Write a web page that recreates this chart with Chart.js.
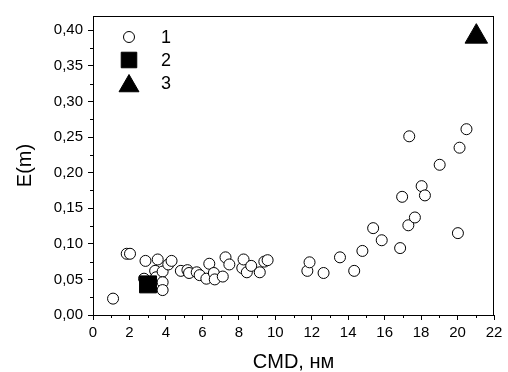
<!DOCTYPE html>
<html lang="ru">
<head>
  <meta charset="UTF-8">
  <title>E(m) vs CMD</title>
  <style>
    body {
      margin: 0;
      background: #ffffff;
    }
    .chart-box {
      width: 508px;
      height: 372px;
    }
  </style>
</head>
<body>
  <div class="chart-box">
    <canvas id="scatter-chart"></canvas>
  </div>

  <script src="https://cdn.jsdelivr.net/npm/chart.js"></script>
  <script>
    // Series 1: open circles (CMD, E(m))
    const cmd1 = [1.10, 1.85, 2.03, 2.80, 2.88, 3.41, 3.46, 3.55, 3.82, 3.82, 3.82, 4.13, 4.31,
                  4.82, 5.18, 5.27, 5.69, 5.85, 6.22, 6.38, 6.63, 6.68, 7.12, 7.27, 7.48,
                  8.19, 8.26, 8.44, 8.68, 9.15, 9.40, 9.58, 11.76, 11.88, 12.65, 13.55,
                  14.33, 14.78, 15.37, 15.84, 16.85, 16.96, 17.30, 17.35, 17.66, 18.03,
                  18.21, 19.02, 20.02, 20.11, 20.49];
    const em1 = [0.023, 0.086, 0.086, 0.051, 0.076, 0.062, 0.053, 0.078, 0.061, 0.046, 0.035, 0.071, 0.076,
                 0.062, 0.063, 0.059, 0.060, 0.056, 0.051, 0.072, 0.059, 0.050, 0.054, 0.081, 0.071,
                 0.066, 0.078, 0.060, 0.069, 0.060, 0.075, 0.077, 0.062, 0.074, 0.059, 0.081,
                 0.062, 0.090, 0.122, 0.105, 0.094, 0.166, 0.126, 0.251, 0.137, 0.181,
                 0.168, 0.211, 0.115, 0.235, 0.261];

    // Series 2: filled square
    const cmd2 = [3.02];
    const em2 = [0.043];

    // Series 3: filled triangle
    const cmd3 = [21.03];
    const em3 = [0.391];

    const seriesLabels = ["1", "2", "3"];
    const xTicks = [0, 2, 4, 6, 8, 10, 12, 14, 16, 18, 20, 22];
    const yTicks = [0, 0.05, 0.10, 0.15, 0.20, 0.25, 0.30, 0.35, 0.40];

    const FONT = "'Liberation Sans', Arial, sans-serif";

    function toPoints(xs, ys) {
      return xs.map((x, i) => ({ x: x, y: ys[i] }));
    }

    // Frame, minor ticks and the in-plot legend
    const framePlugin = {
      id: "frame",
      afterDraw(chart) {
        const ctx = chart.ctx;
        const area = chart.chartArea;
        const xs = chart.scales.x;
        const ys = chart.scales.y;
        ctx.save();
        ctx.strokeStyle = "#000";
        ctx.lineWidth = 1;
        ctx.strokeRect(Math.round(area.left) + 0.5, Math.round(area.top) + 0.5,
          Math.round(area.right - area.left) - 1, Math.round(area.bottom - area.top));

        // minor ticks
        ctx.beginPath();
        for (let i = 0; i < xTicks.length - 1; i++) {
          const px = Math.round(xs.getPixelForValue((xTicks[i] + xTicks[i + 1]) / 2)) + 0.5;
          ctx.moveTo(px, area.bottom);
          ctx.lineTo(px, area.bottom + 3);
        }
        for (let i = 0; i < yTicks.length - 1; i++) {
          const py = Math.round(ys.getPixelForValue((yTicks[i] + yTicks[i + 1]) / 2)) + 0.5;
          ctx.moveTo(area.left, py);
          ctx.lineTo(area.left - 3, py);
        }
        ctx.stroke();

        // legend
        const lx = area.left + 36;
        const rows = [area.top + 21, area.top + 44, area.top + 67];
        const symbolShift = [0, 0, 3];
        ctx.font = "18px " + FONT;
        ctx.textBaseline = "middle";
        chart.data.datasets.forEach((ds, i) => {
          ctx.fillStyle = ds.backgroundColor;
          ctx.strokeStyle = ds.borderColor;
          ctx.lineWidth = 1;
          Chart.helpers.drawPoint(ctx, { pointStyle: ds.pointStyle, radius: ds.legendRadius, borderWidth: 1 },
            lx, rows[i] + symbolShift[i]);
          ctx.fillStyle = "#000";
          ctx.fillText(seriesLabels[i], lx + 32, rows[i] + 1);
        });
        ctx.restore();
      }
    };

    new Chart(document.getElementById("scatter-chart"), {
      type: "scatter",
      data: {
        datasets: [
          {
            label: seriesLabels[0],
            data: toPoints(cmd1, em1),
            pointStyle: "circle",
            pointRadius: 5.5,
            legendRadius: 5.5,
            backgroundColor: "#ffffff",
            borderColor: "#000000",
            borderWidth: 1,
            order: 2
          },
          {
            label: seriesLabels[1],
            data: toPoints(cmd2, em2),
            pointStyle: "rect",
            pointRadius: 12,
            legendRadius: 11,
            backgroundColor: "#000000",
            borderColor: "#000000",
            borderWidth: 1,
            order: 1
          },
          {
            label: seriesLabels[2],
            data: toPoints(cmd3, em3),
            pointStyle: "triangle",
            pointRadius: 13,
            legendRadius: 11.5,
            backgroundColor: "#000000",
            borderColor: "#000000",
            borderWidth: 1,
            order: 0
          }
        ]
      },
      options: {
        responsive: true,
        maintainAspectRatio: false,
        animation: false,
        layout: { padding: { top: 16, right: 9, left: 0, bottom: 0 } },
        plugins: {
          legend: { display: false },
          tooltip: { enabled: false }
        },
        scales: {
          x: {
            type: "linear",
            min: 0,
            max: 22,
            afterFit: (scale) => { scale.height = 57; },
            afterBuildTicks: (scale) => { scale.ticks = xTicks.map((v) => ({ value: v })); },
            ticks: {
              color: "#000",
              padding: 4,
              maxRotation: 0,
              font: { family: FONT, size: 15 },
              callback: (v) => String(v)
            },
            grid: { drawOnChartArea: false, drawTicks: true, tickLength: 5, color: "#000" },
            border: { display: true, color: "#000" },
            title: {
              display: true,
              text: "CMD, нм",
              color: "#000",
              font: { family: FONT, size: 20, lineHeight: 1 },
              padding: { top: 0, bottom: 0 }
            }
          },
          y: {
            type: "linear",
            min: 0,
            max: 0.42,
            afterFit: (scale) => { scale.width = 93; },
            afterBuildTicks: (scale) => { scale.ticks = yTicks.map((v) => ({ value: v })); },
            ticks: {
              color: "#000",
              padding: 5,
              font: { family: FONT, size: 15 },
              callback: (v) => v.toFixed(2).replace(".", ",")
            },
            grid: { drawOnChartArea: false, drawTicks: true, tickLength: 5, color: "#000" },
            border: { display: true, color: "#000" },
            title: {
              display: true,
              text: "E(m)",
              color: "#000",
              font: { family: FONT, size: 20 },
              padding: { top: 13, bottom: 0 }
            }
          }
        }
      },
      plugins: [framePlugin]
    });
  </script>
</body>
</html>
